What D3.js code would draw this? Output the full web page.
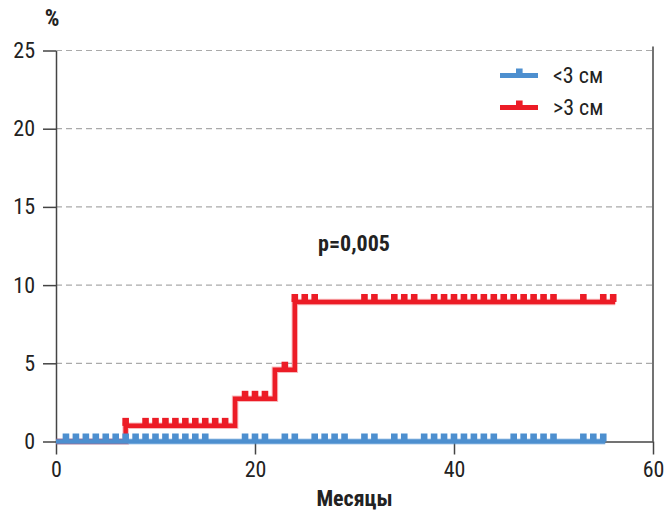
<!DOCTYPE html>
<html>
<head>
<meta charset="utf-8">
<script src="https://cdn.jsdelivr.net/npm/d3@7"></script>
<style>
  body { margin: 0; background: #fff; }
  svg text { font-family: "Roboto Condensed", "Liberation Sans Narrow", "DejaVu Sans Condensed", "Roboto", sans-serif; fill: #222; }
</style>
</head>
<body>
<svg id="chart" width="665" height="516"></svg>
<script>
`use strict`;

// months axis and percent axis
const monthTicks = [0, 20, 40, 60];
const pctTicks = [0, 5, 10, 15, 20, 25];

// <3 cm group : no events, censored months
const smallTime = [0];
const smallRisk = [0];
const smallEnd = 55.2;
const smallCens = [1, 2, 3, 4, 5, 6, 7, 8, 9, 10, 11, 12, 13, 14, 15, 19, 20, 21, 23, 24,
  26, 27, 28, 29, 31, 32, 34, 35, 37, 38, 39, 40, 41, 42, 43, 44, 46, 47, 48, 49, 50, 53, 54, 55];

// >3 cm group : step changes and censored months
const largeTime = [0, 7, 18, 22, 24];
const largeRisk = [0, 1.0, 2.73, 4.59, 8.92];
const largeEnd = 56.2;
const largeCens = [7, 9, 10, 11, 12, 13, 14, 15, 16, 17, 19, 20, 21, 23, 24, 25, 26, 31, 32, 34, 35, 36,
  38, 39, 40, 41, 42, 43, 44, 45, 46, 47, 48, 49, 50, 53, 55, 56];

const seriesNames = [`<3 см`, `>3 см`];
const seriesColors = [`#4d8fcf`, `#ec1c26`];

(function () {

  const svg = d3.select(`#chart`);

  const x = d3.scaleLinear().domain([0, 60]).range([56, 653]);
  const y = d3.scaleLinear().domain([0, 25]).range([441.5, 50.5]);

  // grid
  svg.append(`g`).selectAll(`line`).data(pctTicks.filter(d => d > 0))
    .enter().append(`line`)
    .attr(`x1`, x(0)).attr(`x2`, x(60))
    .attr(`y1`, d => y(d)).attr(`y2`, d => y(d))
    .attr(`stroke`, `#aaa`)
    .attr(`stroke-width`, 1.2)
    .attr(`stroke-dasharray`, `6,4`);

  // right frame line
  svg.append(`line`)
    .attr(`x1`, x(60)).attr(`x2`, x(60))
    .attr(`y1`, y(25) - 4).attr(`y2`, y(0))
    .attr(`stroke`, `#444`).attr(`stroke-width`, 1.5);

  let yAxis = d3.axisLeft(y).tickValues(pctTicks).tickSize(13).tickPadding(8).tickSizeOuter(0);
  let xAxis = d3.axisBottom(x).tickValues(monthTicks).tickSize(13).tickPadding(7).tickSizeOuter(0);

  let gy = svg.append(`g`).attr(`transform`, `translate(${x(0)},0)`).call(yAxis);
  let gx = svg.append(`g`).attr(`transform`, `translate(0,${y(0)})`).call(xAxis);

  [gx, gy].forEach(g => {
    g.selectAll(`path, line`).attr(`stroke`, `#444`).attr(`stroke-width`, 1.5);
    g.selectAll(`text`).attr(`font-size`, 22).attr(`fill`, `#222`)
      .attr(`font-family`, `"Roboto Condensed", "Liberation Sans Narrow", "DejaVu Sans Condensed", sans-serif`);
  });

  let stepAt = (times, risks, t) => {
    let v = risks[0];
    times.forEach((tt, i) => { if (t >= tt) v = risks[i]; });
    return v;
  };

  let line = d3.line().x(d => x(d[0])).y(d => y(d[1])).curve(d3.curveStepAfter);

  let drawCurve = (times, risks, end, cens, color) => {

    let pts = times.map((t, i) => [t, risks[i]]);
    pts.push([end, risks[risks.length - 1]]);

    let g = svg.append(`g`);

    g.append(`path`).datum(pts)
      .attr(`d`, line)
      .attr(`fill`, `none`)
      .attr(`stroke`, color)
      .attr(`stroke-opacity`, 0.3)
      .attr(`stroke-width`, 6.5);

    g.append(`path`).datum(pts)
      .attr(`d`, line)
      .attr(`fill`, `none`)
      .attr(`stroke`, color)
      .attr(`stroke-width`, 4.5);

    g.selectAll(`rect`).data(cens)
      .enter().append(`rect`)
      .attr(`x`, d => x(d) - 3.3)
      .attr(`y`, d => y(stepAt(times, risks, d)) - 8)
      .attr(`width`, 6.6)
      .attr(`height`, 8)
      .attr(`fill`, color);
  };

  drawCurve(largeTime, largeRisk, largeEnd, largeCens, seriesColors[1]);
  drawCurve(smallTime, smallRisk, smallEnd, smallCens, seriesColors[0]);

  // legend
  let leg = svg.append(`g`).selectAll(`g`).data(seriesNames)
    .enter().append(`g`)
    .attr(`transform`, (d, i) => `translate(500,${75.5 + i * 32})`);

  leg.append(`line`)
    .attr(`x1`, 0).attr(`x2`, 38)
    .attr(`stroke`, (d, i) => seriesColors[i])
    .attr(`stroke-width`, 5);

  leg.append(`rect`)
    .attr(`x`, 16).attr(`y`, -7).attr(`width`, 6.6).attr(`height`, 7)
    .attr(`fill`, (d, i) => seriesColors[i]);

  leg.append(`text`)
    .attr(`x`, 53).attr(`dy`, `0.35em`)
    .attr(`font-size`, 22)
    .text(d => d);

  // labels
  svg.append(`text`)
    .attr(`x`, 52).attr(`y`, 26)
    .attr(`text-anchor`, `middle`)
    .attr(`font-size`, 23).attr(`font-weight`, `bold`)
    .text(`%`);

  svg.append(`text`)
    .attr(`x`, (x(0) + x(60)) / 2).attr(`y`, 506)
    .attr(`text-anchor`, `middle`)
    .attr(`font-size`, 22).attr(`font-weight`, `bold`)
    .text(`Месяцы`);

  svg.append(`text`)
    .attr(`x`, 354).attr(`y`, 251)
    .attr(`text-anchor`, `middle`)
    .attr(`font-size`, 22).attr(`font-weight`, `bold`)
    .text(`p=0,005`);
})();
</script>
</body>
</html>
